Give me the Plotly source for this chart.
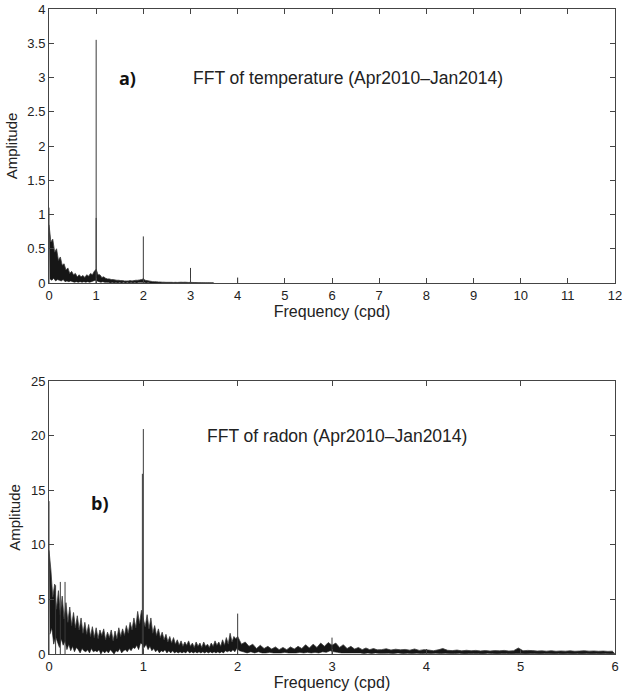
import numpy as np
import plotly.graph_objects as go

# ---------------- data ----------------
# Values alternate: upper edge, lower edge of the noisy spectral band, at consecutive frequencies.
# Panel a: FFT of temperature, every 0.02 cpd from 0 to 3.5 cpd
temp_step = 0.02
temp_amp = [
    0.85, 0.06, 0.60, 0.04, 0.64, 0.07, 0.45, 0.03, 0.50, 0.05,
    0.33, 0.04, 0.38, 0.03, 0.26, 0.05, 0.28, 0.02, 0.19, 0.03,
    0.22, 0.02, 0.14, 0.03, 0.17, 0.02, 0.12, 0.01, 0.14, 0.02,
    0.09, 0.01, 0.12, 0.02, 0.09, 0.01, 0.11, 0.02, 0.08, 0.01,
    0.12, 0.02, 0.10, 0.01, 0.14, 0.02, 0.12, 0.03, 0.17, 0.04,
    0.20, 0.03, 0.12, 0.02, 0.12, 0.01, 0.08, 0.02, 0.09, 0.01,
    0.07, 0.01, 0.06, 0.01, 0.06, 0.00, 0.05, 0.01, 0.05, 0.00,
    0.045, 0.01, 0.04, 0.00, 0.04, 0.01, 0.035, 0.00, 0.035, 0.01,
    0.03, 0.00, 0.03, 0.01, 0.03, 0.00, 0.035, 0.01, 0.03, 0.00,
    0.035, 0.01, 0.04, 0.00, 0.04, 0.01, 0.045, 0.01, 0.05, 0.01,
    0.06, 0.01, 0.04, 0.00, 0.035, 0.01, 0.03, 0.00, 0.025, 0.00,
    0.02, 0.00, 0.02, 0.00, 0.018, 0.00, 0.015, 0.00, 0.015, 0.00,
    0.012, 0.00, 0.012, 0.00, 0.010, 0.00, 0.010, 0.00, 0.010, 0.00,
    0.010, 0.00, 0.008, 0.00, 0.010, 0.00, 0.008, 0.00, 0.010, 0.00,
    0.012, 0.00, 0.010, 0.00, 0.012, 0.00, 0.010, 0.00, 0.008, 0.00,
    0.010, 0.00, 0.008, 0.00, 0.006, 0.00, 0.006, 0.00, 0.005, 0.00,
    0.005, 0.00, 0.004, 0.00, 0.004, 0.00, 0.003, 0.00, 0.003, 0.00,
    0.003, 0.00, 0.002, 0.00, 0.002, 0.00,
]
temp_spike_f = [0.0, 1.0, 1.0, 2.0, 3.0, 4.0]
temp_spike_amp = [1.1, 3.55, 0.95, 0.68, 0.22, 0.08]

# Panel b: FFT of radon
# segment 1: 0 - 2 cpd every 0.01 cpd
radon_step_1 = 0.01
radon_amp_1 = [
    9.5, 1.8, 7.7, 2.4, 5.2, 0.9, 6.4, 1.6, 4.1, 1.1,
    5.8, 0.6, 3.6, 1.4, 5.3, 0.8, 3.2, 1.2, 4.7, 0.4,
    2.9, 0.9, 4.3, 0.3, 2.6, 0.7, 3.8, 0.2, 2.4, 0.6,
    3.5, 0.4, 2.2, 0.1, 3.3, 0.5, 1.9, 0.3, 2.9, 0.2,
    1.8, 0.4, 2.7, 0.1, 1.6, 0.5, 2.5, 0.2, 1.5, 0.3,
    2.4, 0.2, 1.4, 0.4, 2.2, 0.0, 1.7, 0.3, 2.3, 0.1,
    1.3, 0.3, 2.0, 0.1, 1.5, 0.4, 2.2, 0.2, 1.2, 0.0,
    2.1, 0.3, 1.4, 0.2, 2.4, 0.5, 1.6, 0.1, 2.3, 0.3,
    1.7, 0.4, 2.6, 0.2, 1.9, 0.5, 2.9, 0.3, 2.2, 0.6,
    3.3, 0.5, 2.4, 0.8, 3.9, 0.4, 2.8, 1.0, 4.0, 0.9,
    3.2, 0.6, 2.5, 0.9, 3.6, 0.4, 2.3, 0.7, 3.3, 0.3,
    1.9, 0.5, 2.6, 0.2, 1.7, 0.4, 2.3, 0.1, 1.5, 0.3,
    2.0, 0.2, 1.3, 0.4, 1.8, 0.1, 1.1, 0.3, 1.6, 0.1,
    1.0, 0.3, 1.5, 0.1, 0.9, 0.2, 1.3, 0.1, 0.8, 0.2,
    1.2, 0.1, 0.7, 0.2, 1.1, 0.1, 0.8, 0.3, 1.2, 0.1,
    0.7, 0.2, 1.0, 0.1, 0.6, 0.2, 1.1, 0.1, 0.7, 0.2,
    1.0, 0.1, 0.6, 0.2, 1.1, 0.1, 0.7, 0.2, 0.9, 0.1,
    0.6, 0.2, 1.0, 0.1, 0.7, 0.2, 1.2, 0.1, 0.8, 0.2,
    1.1, 0.1, 0.7, 0.2, 1.3, 0.1, 0.8, 0.3, 1.5, 0.2,
    0.9, 0.3, 1.9, 0.2, 1.1, 0.4, 1.6, 0.2, 1.4, 0.5,
]
# segment 2: 2.0 - 3.5 cpd every 0.02 cpd
radon_start_2 = 2.0
radon_step_2 = 0.02
radon_amp_2 = [
    1.6, 0.3, 0.9, 0.2, 1.1, 0.1, 0.7, 0.2, 0.9, 0.1,
    0.5, 0.2, 0.8, 0.1, 0.5, 0.1, 0.7, 0.15, 0.45, 0.1,
    0.65, 0.1, 0.4, 0.1, 0.6, 0.15, 0.4, 0.1, 0.65, 0.1,
    0.45, 0.1, 0.7, 0.15, 0.5, 0.1, 0.85, 0.15, 0.55, 0.1,
    0.9, 0.15, 0.6, 0.1, 1.0, 0.2, 0.7, 0.15, 1.05, 0.3,
    0.8, 0.2, 1.0, 0.15, 0.6, 0.1, 0.85, 0.1, 0.5, 0.1,
    0.7, 0.1, 0.45, 0.1, 0.6, 0.1, 0.4, 0.05, 0.55, 0.1,
    0.4, 0.05, 0.5, 0.1, 0.38, 0.06,
]
# segment 3: 3.525 - 6 cpd every 0.025 cpd
radon_start_3 = 3.525
radon_step_3 = 0.025
radon_amp_3 = [
    0.40, 0.06, 0.48, 0.08, 0.36, 0.05, 0.44, 0.10, 0.38, 0.04,
    0.42, 0.07, 0.35, 0.05, 0.46, 0.08, 0.33, 0.04, 0.40, 0.06,
    0.36, 0.05, 0.30, 0.07, 0.38, 0.04, 0.50, 0.06, 0.34, 0.05,
    0.31, 0.04, 0.36, 0.06, 0.29, 0.03, 0.34, 0.05, 0.30, 0.04,
    0.33, 0.05, 0.28, 0.03, 0.32, 0.06, 0.27, 0.04, 0.31, 0.03,
    0.29, 0.05, 0.33, 0.04, 0.27, 0.03, 0.30, 0.05, 0.55, 0.04,
    0.30, 0.03, 0.33, 0.05, 0.31, 0.04, 0.27, 0.03, 0.29, 0.05,
    0.26, 0.04, 0.30, 0.03, 0.25, 0.05, 0.28, 0.03, 0.26, 0.04,
    0.29, 0.03, 0.25, 0.05, 0.27, 0.03, 0.30, 0.04, 0.26, 0.03,
    0.28, 0.05, 0.25, 0.03, 0.27, 0.04, 0.24, 0.03, 0.26, 0.04,
]
radon_spike_f = [0.0, 0.07, 0.12, 0.17, 0.99, 1.0, 2.0, 3.0]
radon_spike_amp = [14.0, 6.3, 6.6, 6.6, 16.5, 20.6, 3.7, 1.5]

# ---------------- helpers ----------------
def spikes(fs, amps):
    xs, ys = [], []
    for f, a in zip(fs, amps):
        xs += [f, f, None]
        ys += [0, a, None]
    return xs, ys

temp_f = np.arange(len(temp_amp)) * temp_step
temp_y = np.array(temp_amp)
radon_f = np.concatenate([
    np.arange(len(radon_amp_1)) * radon_step_1,
    radon_start_2 + np.arange(len(radon_amp_2)) * radon_step_2,
    radon_start_3 + np.arange(len(radon_amp_3)) * radon_step_3,
])
radon_y = np.array(radon_amp_1 + radon_amp_2 + radon_amp_3)

fig = go.Figure()
band_col = "#161616"
edge_col = "#3c3c3c"
spike_col = "#3a3a3a"

def add_band(f, y, xa, ya):
    # lower edge, then upper edge filled down to it
    fig.add_trace(go.Scatter(x=f[1::2], y=y[1::2], mode="lines",
                             line=dict(color=band_col, width=0.6, simplify=False),
                             xaxis=xa, yaxis=ya, showlegend=False, hoverinfo="skip"))
    fig.add_trace(go.Scatter(x=f[0::2], y=y[0::2], mode="lines", fill="tonexty",
                             fillcolor=band_col,
                             line=dict(color=edge_col, width=0.8, simplify=False),
                             xaxis=xa, yaxis=ya, showlegend=False, hoverinfo="skip"))

add_band(temp_f, temp_y, "x", "y")
sx, sy = spikes(temp_spike_f, temp_spike_amp)
fig.add_trace(go.Scatter(x=sx, y=sy, mode="lines",
                         line=dict(color=spike_col, width=1, simplify=False), xaxis="x", yaxis="y",
                         showlegend=False, hoverinfo="skip"))

add_band(radon_f, radon_y, "x2", "y2")
sx, sy = spikes(radon_spike_f, radon_spike_amp)
fig.add_trace(go.Scatter(x=sx, y=sy, mode="lines",
                         line=dict(color=spike_col, width=1, simplify=False), xaxis="x2", yaxis="y2",
                         showlegend=False, hoverinfo="skip"))

W, H = 622, 693
ML, MR, MT, MB = 49, 7, 9, 39
PH = H - MT - MB
ya_dom = [1 - (283 - MT) / PH, 1]
yb_dom = [0, 1 - (381 - MT) / PH]

tick_font = dict(family="Liberation Sans, Arial, sans-serif", size=13, color="#222")
title_font = dict(family="Liberation Sans, Arial, sans-serif", size=15, color="#222")
xtitle_font = dict(family="Liberation Sans, Arial, sans-serif", size=16, color="#222")

axis_common = dict(showline=True, linecolor="#444", linewidth=1, mirror="ticks",
                   ticks="inside", ticklen=5, tickcolor="#444", showgrid=False,
                   zeroline=False, tickfont=tick_font, automargin=False,
                   ticklabeloverflow="allow")

fig.update_layout(
    width=W, height=H, margin=dict(l=ML, r=MR, t=MT, b=MB, autoexpand=False),
    plot_bgcolor="white", paper_bgcolor="white",
    xaxis=dict(domain=[0, 1], anchor="y", range=[0, 12], tickvals=list(range(0, 13)),
               title=dict(text="Frequency (cpd)", font=xtitle_font, standoff=2), **axis_common),
    yaxis=dict(domain=ya_dom, anchor="x", range=[0, 4],
               tickvals=[0, 0.5, 1, 1.5, 2, 2.5, 3, 3.5, 4],
               ticktext=["0", "0.5", "1", "1.5", "2", "2.5", "3", "3.5", "4"],
               title=dict(text="Amplitude", font=title_font, standoff=6), **axis_common),
    xaxis2=dict(domain=[0, 1], anchor="y2", range=[0, 6], tickvals=list(range(0, 7)),
                title=dict(text="Frequency (cpd)", font=xtitle_font, standoff=2), **axis_common),
    yaxis2=dict(domain=yb_dom, anchor="x2", range=[0, 25], tickvals=[0, 5, 10, 15, 20, 25],
                title=dict(text="Amplitude", font=title_font, standoff=6), **axis_common),
)

ann_font = dict(family="Liberation Sans, Arial, sans-serif", size=17.5, color="#222")
lab_font = dict(family="Open Sans, sans-serif", size=18, color="#111")
fig.add_annotation(x=3.0, y=3.0, xref="x", yref="y", text="FFT of temperature (Apr2010\u2013Jan2014)",
                   showarrow=False, xanchor="left", yanchor="middle", font=ann_font)
fig.add_annotation(x=1.67, y=3.0, xref="x", yref="y", text="<b>a)</b>",
                   showarrow=False, xanchor="center", yanchor="middle", font=lab_font)
fig.add_annotation(x=1.65, y=20.0, xref="x2", yref="y2", text="FFT of radon (Apr2010\u2013Jan2014)",
                   showarrow=False, xanchor="left", yanchor="middle", font=ann_font)
fig.add_annotation(x=0.54, y=13.8, xref="x2", yref="y2", text="<b>b)</b>",
                   showarrow=False, xanchor="center", yanchor="middle", font=lab_font)

fig.write_html("out.html")
